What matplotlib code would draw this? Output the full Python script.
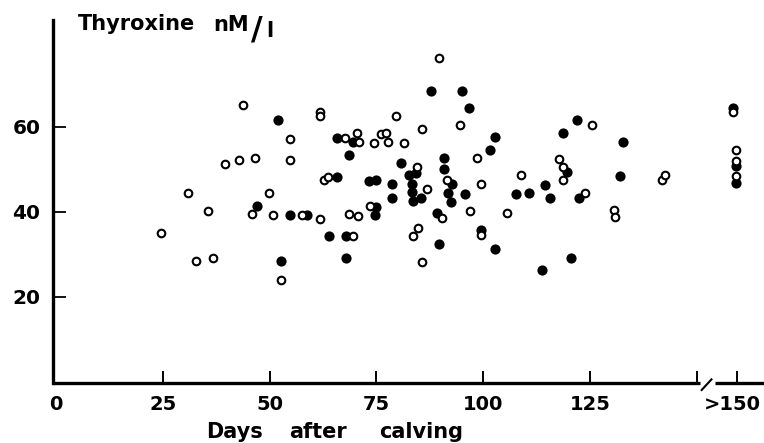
import matplotlib
matplotlib.use('Agg')
import matplotlib.pyplot as plt
import matplotlib.transforms as mtransforms

# open circles
open_days = [24.7, 30.8, 32.8, 35.6, 36.8, 39.6, 42.8, 43.7, 46.0, 46.7,
             49.9, 50.8, 52.6, 54.7, 54.7, 57.5, 61.8, 61.8, 61.9, 62.7,
             63.8, 67.6, 68.7, 69.6, 70.6, 70.9, 70.8, 73.6, 74.4, 76.2,
             77.2, 77.8, 79.6, 81.6, 84.6, 84.8, 83.7, 85.8, 85.8, 86.8,
             89.6, 90.5, 91.6, 94.6, 96.9, 98.7, 99.6, 99.5, 105.6, 108.9,
             117.7, 118.8, 118.8, 123.8, 125.5, 130.7, 130.9, 141.8, 142.7,
             158.6, 159.2, 159.2, 159.2]
open_t4 = [34.9, 44.4, 28.4, 40.1, 29.1, 51.2, 52.2, 65.2, 39.4, 52.6,
           44.4, 39.3, 24.0, 57.2, 52.2, 39.2, 63.5, 62.5, 38.2, 47.4,
           48.2, 57.4, 39.5, 34.2, 58.5, 56.3, 38.9, 41.2, 56.2, 58.2,
           58.4, 56.4, 62.5, 56.2, 50.6, 36.2, 34.2, 59.4, 28.1, 45.4,
           76.1, 38.5, 47.4, 60.5, 40.2, 52.5, 46.6, 34.5, 39.6, 48.5,
           52.4, 50.5, 47.4, 44.3, 60.3, 40.4, 38.8, 47.4, 48.6,
           63.5, 54.5, 52.0, 48.4]

# filled circles
filled_days = [47.0, 51.9, 52.7, 54.9, 58.8, 63.9, 65.8, 65.8, 67.9, 67.9,
               68.6, 69.6, 73.4, 75.0, 75.0, 74.8, 78.8, 78.8, 80.7, 82.7,
               84.4, 83.4, 83.4, 83.7, 85.5, 87.9, 89.3, 89.7, 90.8, 90.8,
               92.7, 91.7, 92.6, 95.0, 95.7, 96.7, 99.6, 101.7, 102.8, 102.8,
               107.7, 110.7, 113.7, 114.6, 115.8, 118.8, 119.7, 120.7, 122.0,
               122.5, 132.0, 132.8, 158.6, 159.2, 159.2]
filled_t4 = [41.4, 61.5, 28.3, 39.2, 39.2, 34.2, 57.3, 48.2, 34.2, 29.1,
             53.4, 56.4, 47.2, 47.4, 41.1, 39.1, 46.4, 43.1, 51.5, 48.5,
             49.0, 46.6, 44.5, 42.5, 43.3, 68.4, 39.6, 32.4, 52.7, 50.1,
             46.4, 44.4, 42.3, 68.3, 44.1, 64.4, 35.7, 54.4, 57.6, 31.3,
             44.2, 44.4, 26.2, 46.2, 43.3, 58.5, 49.3, 29.0, 61.5,
             43.2, 48.4, 56.4, 64.3, 50.8, 46.8]

xticks = [0, 25, 50, 75, 100, 125, 150, 159.5]
xticklabels = ['0', '25', '50', '75', '100', '125', '', '>150']
yticks = [20, 40, 60]

fig = plt.figure(figsize=(7.64, 4.43), dpi=100)
ax = fig.add_axes([53 / 764, 60 / 443, 711 / 764, 363 / 443])

ax.scatter(filled_days, filled_t4, s=54, c='black', linewidths=0, zorder=3)
ax.scatter(open_days, open_t4, s=30, facecolors='white', edgecolors='black',
           linewidths=1.5, zorder=4)

ax.set_xlim(-0.7, 165.8)
ax.set_ylim(-0.35, 85.1)

for side in ['top', 'right', 'bottom']:
    ax.spines[side].set_visible(False)
ax.spines['left'].set_linewidth(2.4)

# broken x axis line
trans = mtransforms.blended_transform_factory(ax.transData, ax.transAxes)
ax.plot([-0.7, 150.8], [0, 0], transform=trans, color='black', lw=2.4,
        clip_on=False, solid_capstyle='butt')
ax.plot([154.3, 165.8], [0, 0], transform=trans, color='black', lw=2.4,
        clip_on=False, solid_capstyle='butt')
ax.plot([151.2, 153.5], [-2.0, 0.5], color='black', lw=1.5, clip_on=False)

ax.set_xticks(xticks)
ax.set_xticklabels(xticklabels)
ax.set_yticks(yticks)
ax.tick_params(axis='x', direction='in', length=8.5, width=1.4, pad=9,
               labelsize=14)
ax.tick_params(axis='y', direction='in', length=9, width=1.3, pad=9,
               labelsize=14.5)
ax.xaxis.get_major_ticks()[0].tick1line.set_visible(False)
for lab in ax.get_xticklabels() + ax.get_yticklabels():
    lab.set_fontweight('bold')

# nudge ">150" left so it stays inside the figure
last = ax.get_xticklabels()[-1]
last.set_transform(last.get_transform() +
                   mtransforms.ScaledTranslation(-5 / 100, 0, fig.dpi_scale_trans))

# title and axis label
fig.text(78 / 764, 1 - 30 / 443, 'Thyroxine', fontsize=15, fontweight='bold',
         ha='left', va='baseline')
fig.text(213 / 764, 1 - 31 / 443, 'nM', fontsize=15, fontweight='bold',
         ha='left', va='baseline')
fig.text(251 / 764, 1 - 39 / 443, '/', fontsize=23, fontweight='bold',
         ha='left', va='baseline')
fig.text(266 / 764, 1 - 37 / 443, 'l', fontsize=15, fontweight='bold',
         ha='left', va='baseline')

label_y = 1 - 438 / 443
fig.text(235 / 764, label_y, 'Days', fontsize=15, fontweight='bold',
         ha='center', va='baseline')
fig.text(318 / 764, label_y, 'after', fontsize=15, fontweight='bold',
         ha='center', va='baseline')
fig.text(421 / 764, label_y, 'calving', fontsize=15, fontweight='bold',
         ha='center', va='baseline')

fig.savefig('out.png', dpi=100)
